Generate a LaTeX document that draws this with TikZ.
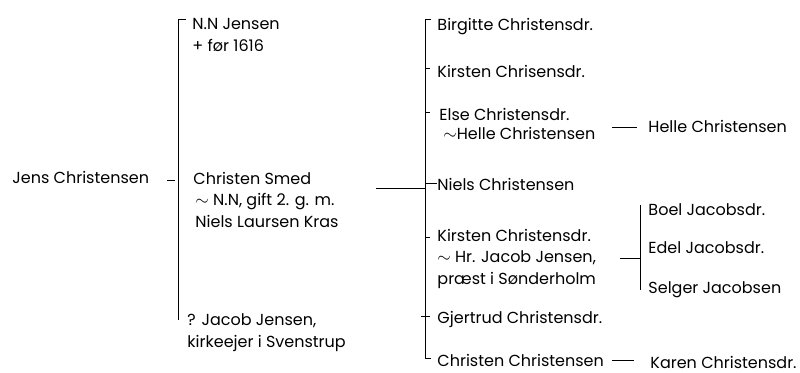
\documentclass[tikz,border=0pt]{standalone}
\usepackage{fontspec}
\setmainfont{Poppins}
\begin{document}
\begin{tikzpicture}[x=1pt,y=-1pt,line width=0.9pt,
  person/.style={anchor=base west,inner sep=0pt,align=left,font=\fontsize{16}{21.5}\selectfont},
  tight/.style={font=\fontsize{16}{19}\selectfont}]
\useasboundingbox (0,0) rectangle (800,372);
% generation 1-2 (multi-line nodes: base = last line)
\node[person] (jens) at (12,183) {Jens Christensen};
\node[person] (nn) at (192,51) {N.N Jensen\\+ før 1616};
\node[person] (smed) at (193,227) {Christen Smed\\\hspace*{2pt}$\sim$ N.N, gift 2. g. m.\\\hspace*{2pt}Niels Laursen Kras};
\node[person] (jacob) at (187,347) {? Jacob Jensen,\\kirkeejer i Svenstrup};
% generation 3
\node[person] (birgitte) at (437,30) {Birgitte Christensdr.};
\node[person] (kirsten1) at (437,77) {Kirsten Chrisensdr.};
\node[person,tight] (else) at (439,139) {Else Christensdr.\\\hspace*{4pt}$\sim$Helle Christensen};
\node[person] (niels) at (437,190) {Niels Christensen};
\node[person] (kirsten2) at (437,284) {Kirsten Christensdr.\\$\sim$ Hr. Jacob Jensen,\\præst i Sønderholm};
\node[person] (gjertrud) at (437,323) {Gjertrud Christensdr.};
\node[person] (christen) at (437,366) {Christen Christensen};
% generation 4
\node[person] (helle) at (648,132) {Helle Christensen};
\node[person] (boel) at (648,215) {Boel Jacobsdr.};
\node[person] (edel) at (648,253) {Edel Jacobsdr.};
\node[person] (selger) at (648,293) {Selger Jacobsen};
\node[person] (karen) at (650,368) {Karen Christensdr.};
% connector points
\coordinate (jd1) at (167,180); \coordinate (jd2) at (175,180);
\coordinate (lh) at (186,19); \coordinate (lt) at (178,19); \coordinate (lb) at (178,320);
\coordinate (m1) at (376,188); \coordinate (m2) at (425,188);
\coordinate (rh) at (431,19); \coordinate (rt) at (425,19);
\coordinate (rb) at (425,358); \coordinate (rbh) at (431,358);
\coordinate (t1a) at (425,68); \coordinate (t1b) at (430,68);
\coordinate (t2a) at (425,112); \coordinate (t2b) at (430,112);
\coordinate (t3a) at (425,183); \coordinate (t3b) at (437,183);
\coordinate (t4a) at (425,237); \coordinate (t4b) at (430,237);
\coordinate (t5a) at (421,316); \coordinate (t5b) at (430,316);
\coordinate (e1) at (612,127); \coordinate (e2) at (637,127);
\coordinate (k1) at (620,258); \coordinate (k2) at (640,258);
\coordinate (kt) at (640,205); \coordinate (kb) at (640,290);
\coordinate (c1) at (612,360); \coordinate (c2) at (634,360);
% connectors
\draw (jd1) -- (jd2);
\draw (lh) -- (lt) -- (lb);
\draw (m1) -- (m2);
\draw (rh) -- (rt) -- (rb) -- (rbh);
\draw (t1a) -- (t1b);
\draw (t2a) -- (t2b);
\draw (t3a) -- (t3b);
\draw (t4a) -- (t4b);
\draw (t5a) -- (t5b);
\draw (e1) -- (e2);
\draw (k1) -- (k2);
\draw (kt) -- (kb);
\draw (c1) -- (c2);
\end{tikzpicture}
\end{document}
